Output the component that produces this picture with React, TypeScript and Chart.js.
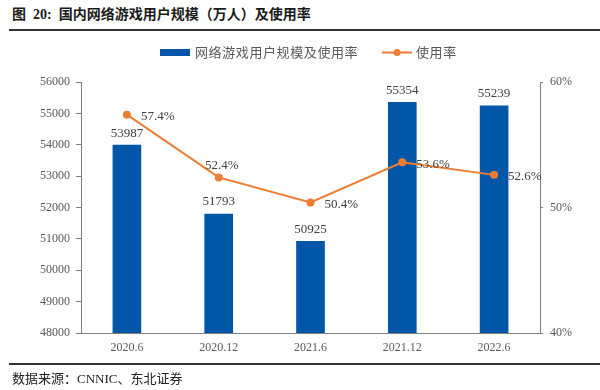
import React, { useEffect, useRef } from "react";
import { Chart, registerables } from "chart.js";

Chart.register(...registerables);

const categories = ["2020.6", "2020.12", "2021.6", "2021.12", "2022.6"];
const userScale = [53987, 51793, 50925, 55354, 55239];
const usageRate = [57.4, 52.4, 50.4, 53.6, 52.6];
const leftTicks = { min: 48000, max: 56000, step: 1000 };
const rightTicks = { min: 40, max: 60, step: 10 };
const barLegend = "网络游戏用户规模及使用率";
const lineLegend = "使用率";
const titleText = "图  20:  国内网络游戏用户规模（万人）及使用率";
const sourceText = "数据来源：CNNIC、东北证券";

const BAR_COLOR = "#0256A7";
const LINE_COLOR = "#ED7D31";
const AXIS_COLOR = "#808080";
const TICK_TEXT = "#595959";
const LABEL_TEXT = "#404040";
const SERIF = '"Liberation Serif", "Times New Roman", serif';
const CJK = '"Noto Sans CJK SC", sans-serif';
const lineLabelAnchors = ["right", "top", "right", "right", "right"];

const labelPlugin = {
  id: "valueLabels",
  afterDatasetsDraw(chart: any) {
    const ctx = chart.ctx;
    ctx.save();
    ctx.font = `13px ${SERIF}`;
    ctx.fillStyle = LABEL_TEXT;
    const barMeta = chart.getDatasetMeta(0);
    barMeta.data.forEach((el: any, i: number) => {
      ctx.textAlign = "center";
      ctx.textBaseline = "middle";
      ctx.fillText(String(userScale[i]), el.x, el.y - 12);
    });
    const lineMeta = chart.getDatasetMeta(1);
    lineMeta.data.forEach((el: any, i: number) => {
      const txt = usageRate[i].toFixed(1) + "%";
      ctx.textBaseline = "middle";
      if (lineLabelAnchors[i] === "top") {
        ctx.textAlign = "center";
        ctx.fillText(txt, el.x + 3, el.y - 12);
      } else {
        ctx.textAlign = "left";
        ctx.fillText(txt, el.x + 14, el.y + 2);
      }
    });
    ctx.restore();
  },
  afterDraw(chart: any) {
    const ctx = chart.ctx;
    ctx.save();
    ctx.fillStyle = BAR_COLOR;
    ctx.fillRect(160, 49, 30, 7);
    ctx.font = `13px ${CJK}`;
    (ctx as any).letterSpacing = "0.6px";
    ctx.fillStyle = TICK_TEXT;
    ctx.textAlign = "left";
    ctx.textBaseline = "middle";
    ctx.fillText(barLegend, 195, 52.5);
    ctx.strokeStyle = LINE_COLOR;
    ctx.lineWidth = 2;
    ctx.beginPath();
    ctx.moveTo(382, 52.5);
    ctx.lineTo(412, 52.5);
    ctx.stroke();
    ctx.fillStyle = LINE_COLOR;
    ctx.beginPath();
    ctx.arc(397, 52.5, 3.5, 0, Math.PI * 2);
    ctx.fill();
    ctx.fillStyle = TICK_TEXT;
    ctx.fillText(lineLegend, 416, 52.5);
    ctx.restore();
  },
};

export default function App() {
  const ref = useRef<HTMLCanvasElement | null>(null);

  useEffect(() => {
    document.body.style.margin = "0";
    const canvas = ref.current;
    if (!canvas) return;
    const chart = new Chart(canvas, {
      type: "bar",
      data: {
        labels: categories,
        datasets: [
          {
            type: "bar",
            label: barLegend,
            data: userScale,
            backgroundColor: BAR_COLOR,
            barThickness: 28,
            yAxisID: "y",
            order: 2,
          } as any,
          {
            type: "line",
            label: lineLegend,
            data: usageRate,
            borderColor: LINE_COLOR,
            backgroundColor: LINE_COLOR,
            borderWidth: 2,
            pointRadius: 4,
            pointBackgroundColor: LINE_COLOR,
            pointBorderWidth: 0,
            tension: 0,
            yAxisID: "y1",
            order: 1,
          } as any,
        ],
      },
      options: {
        animation: false,
        responsive: false,
        maintainAspectRatio: false,
        layout: { padding: { top: 82, bottom: 32, left: 0, right: 0 } },
        plugins: { legend: { display: false }, tooltip: { enabled: false }, title: { display: false } },
        scales: {
          x: {
            afterFit: (s: any) => { s.height = 25; },
            grid: { display: false, drawTicks: false },
            border: { display: true, color: AXIS_COLOR, width: 1 },
            ticks: { color: TICK_TEXT, font: { family: SERIF, size: 12 }, padding: 8 },
          },
          y: {
            position: "left",
            min: leftTicks.min,
            max: leftTicks.max,
            afterFit: (s: any) => { s.width = 81; },
            grid: { drawOnChartArea: false, drawTicks: true, tickLength: 5, color: AXIS_COLOR },
            border: { display: true, color: AXIS_COLOR, width: 1 },
            ticks: {
              stepSize: leftTicks.step,
              color: TICK_TEXT,
              font: { family: SERIF, size: 12 },
              padding: 6,
              callback: (v: any) => String(v),
            },
          },
          y1: {
            position: "right",
            min: rightTicks.min,
            max: rightTicks.max,
            afterFit: (s: any) => { s.width = 60; },
            grid: { drawOnChartArea: false, drawTicks: true, tickLength: 3, color: AXIS_COLOR },
            border: { display: true, color: AXIS_COLOR, width: 1 },
            ticks: {
              stepSize: rightTicks.step,
              color: TICK_TEXT,
              font: { family: SERIF, size: 12 },
              padding: 7,
              callback: (v: any) => v + "%",
            },
          },
        } as any,
      },
      plugins: [labelPlugin],
    });
    return () => chart.destroy();
  }, []);

  return (
    <div style={{ position: "relative", width: 600, height: 390, background: "#fff", overflow: "hidden" }}>
      <div
        style={{
          position: "absolute",
          left: 12,
          top: 4,
          fontFamily: `"Liberation Serif", ${CJK}`,
          fontWeight: "bold",
          fontSize: 14,
          color: "#1a1a1a",
          whiteSpace: "pre",
          lineHeight: "22px",
        }}
      >
        {titleText}
      </div>
      <div style={{ position: "absolute", left: 9, right: 0, top: 29, height: 2, background: "#333" }} />
      <canvas ref={ref} width={600} height={390} style={{ position: "absolute", left: 0, top: 0 }} />
      <div style={{ position: "absolute", left: 9, right: 0, top: 363, height: 2, background: "#333" }} />
      <div
        style={{
          position: "absolute",
          left: 12,
          top: 369,
          fontFamily: `"Liberation Serif", ${CJK}`,
          fontSize: 13,
          color: "#222",
          whiteSpace: "nowrap",
          lineHeight: "20px",
        }}
      >
        {sourceText}
      </div>
    </div>
  );
}
